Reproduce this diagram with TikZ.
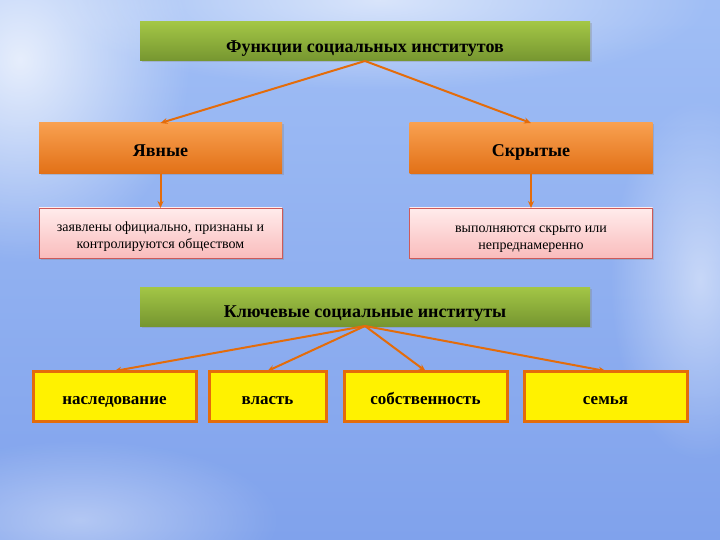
\documentclass[tikz,border=0pt]{standalone}
\usepackage{fontspec}
\setmainfont{Liberation Serif}
\usepackage{tikz}
\usetikzlibrary{arrows.meta,shadows,fadings}

\definecolor{bgtop}{RGB}{160,190,245}
\definecolor{bgmid}{RGB}{108,148,232}
\definecolor{bgbot}{RGB}{128,162,236}
\definecolor{grtop}{RGB}{163,198,70}
\definecolor{grbot}{RGB}{118,150,48}
\definecolor{ortop}{RGB}{248,160,80}
\definecolor{orbot}{RGB}{226,112,22}
\definecolor{pktop}{RGB}{255,236,236}
\definecolor{pkbot}{RGB}{250,188,188}
\definecolor{pkline}{RGB}{205,90,90}
\definecolor{arrowor}{RGB}{228,108,10}
\tikzfading[name=softblob,inner color=transparent!0,outer color=transparent!100]

\begin{document}
\begin{tikzpicture}[x=1pt,y=-1pt,
  boxshadow/.style={drop shadow={opacity=0.3,shadow xshift=1.5pt,shadow yshift=-1.5pt}},
  greenbox/.style={boxshadow,text height=22pt,text depth=0.2pt,rectangle,top color=grtop,bottom color=grbot,minimum width=450pt,minimum height=39pt,inner sep=0pt,outer sep=0pt,font=\bfseries\fontsize{18}{20}\selectfont},
  orangebox/.style={boxshadow,text height=16pt,text depth=0.2pt,rectangle,top color=ortop,bottom color=orbot,minimum width=243pt,minimum height=51pt,inner sep=0pt,outer sep=0pt,font=\bfseries\fontsize{18}{20}\selectfont},
  pinkbox/.style={boxshadow,rectangle,draw=pkline,line width=0.6pt,top color=pktop,bottom color=pkbot,minimum width=243pt,minimum height=50pt,inner sep=0pt,outer sep=0pt,align=center,font=\fontsize{14}{17}\selectfont},
  yellowbox/.style={text height=18pt,text depth=0.2pt,rectangle,draw=arrowor,line width=3pt,fill=yellow,minimum height=50pt,inner sep=0pt,outer sep=0pt,font=\bfseries\fontsize{17}{19}\selectfont},
  cloud/.style={fill=white,path fading=softblob},
  conn/.style={draw=arrowor,line width=2pt,-{Stealth[length=7pt,width=6pt]}}]
\useasboundingbox (0,0) rectangle (720,540);
\shade[top color=bgtop,middle color=bgmid,bottom color=bgbot] (0,0) rectangle (720,540);
% light patches of the sky
\fill[cloud,opacity=0.75] (20,60) ellipse (170pt and 200pt);
\fill[cloud,opacity=0.6] (380,0) ellipse (330pt and 90pt);
\fill[cloud,opacity=0.5] (700,280) ellipse (90pt and 180pt);
\fill[cloud,opacity=0.4] (80,520) ellipse (200pt and 80pt);
% top level
\node[greenbox] (funk) at (365,41.5) {Функции социальных институтов};
\node[orangebox] (yav) at (160.5,148.5) {Явные};
\node[orangebox] (skr) at (531,148.5) {Скрытые};
\node[pinkbox] (yavtxt) at (160.5,233) {\rule{0pt}{18pt}заявлены официально, признаны и\\ контролируются обществом};
\node[pinkbox] (skrtxt) at (531,233) {\rule{0pt}{18pt}выполняются скрыто или\\ непреднамеренно};
\draw[conn] (funk.south) -- (yav.north);
\draw[conn] (funk.south) -- (skr.north);
\draw[conn] (yav.south) -- (yavtxt.north);
\draw[conn] (skr.south) -- (skrtxt.north);
% key institutions
\node[greenbox] (klyuch) at (365,306.5) {Ключевые социальные институты};
\node[yellowbox,minimum width=163pt] (nasl) at (114.5,396) {наследование};
\node[yellowbox,minimum width=117pt] (vlast) at (267.5,396) {власть};
\node[yellowbox,minimum width=163pt] (sobst) at (425.5,396) {собственность};
\node[yellowbox,minimum width=163pt] (semya) at (605.5,396) {семья};
\foreach \n in {nasl,vlast,sobst,semya}
  \draw[conn] (klyuch.south) -- (\n.north);
\end{tikzpicture}
\end{document}
